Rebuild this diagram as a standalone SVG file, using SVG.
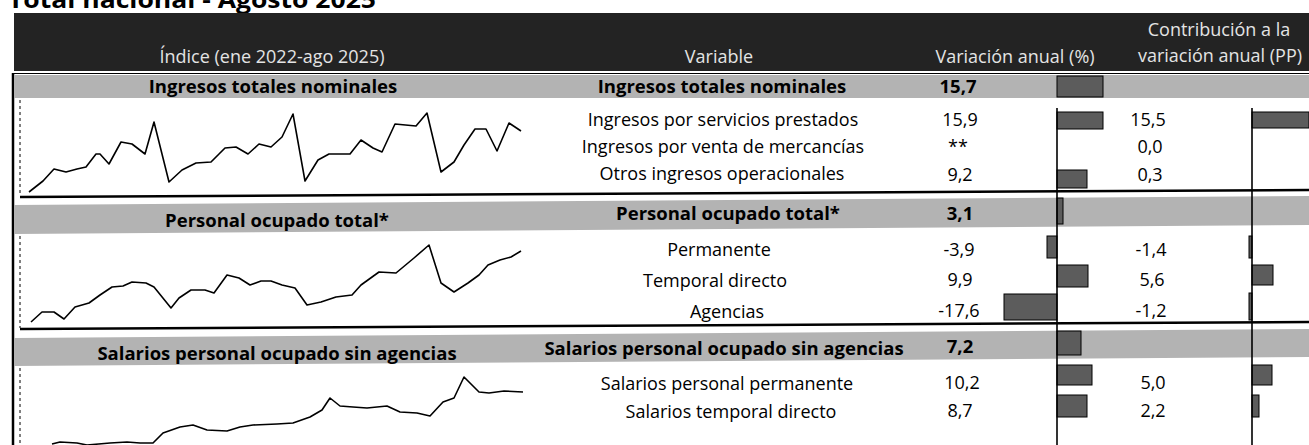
<svg xmlns="http://www.w3.org/2000/svg" width="1309" height="445" viewBox="0 0 1309 445">
<style>
text { font-family: "Open Sans", "Liberation Sans", sans-serif; fill: #000; }
.title { font-size: 24px; font-weight: 700; }
.h { font-size: 18px; fill: #e4e4e4; text-anchor: middle; }
.b { font-size: 18.5px; font-weight: 700; text-anchor: middle; }
.t { font-size: 18px; text-anchor: middle; }
.band { fill: #b3b3b3; }
.bar { fill: #5c5c5c; stroke: #000; stroke-width: 1; }
.sep { stroke: #000; stroke-width: 2.5; fill: none; }
.base { stroke: #000; stroke-width: 1.6; fill: none; }
.axis { stroke: #000; stroke-width: 1; stroke-dasharray: 3 3; fill: none; }
.spark { stroke: #000; stroke-width: 1.6; fill: none; stroke-linejoin: round; }
</style>
<rect width="1309" height="445" fill="#fff"/>
<text class="title" x="8" y="8" textLength="368" lengthAdjust="spacingAndGlyphs">Total nacional - Agosto 2025</text>

<g id="header">
  <rect x="14" y="13" width="1295" height="58" fill="#232323"/>
  <text class="h" x="272" y="63">Índice (ene 2022-ago 2025)</text>
  <text class="h" x="719" y="63">Variable</text>
  <text class="h" x="1015" y="63">Variación anual (%)</text>
  <text class="h" x="1219" y="36">Contribución a la</text>
  <text class="h" x="1220" y="62">variación anual (PP)</text>
</g>

<g id="frame">
  <line class="sep" x1="13" y1="73" x2="13" y2="445"/>
  <line x1="13" y1="73.5" x2="1309" y2="73.5" stroke="#000" stroke-width="1"/>
</g>

<g id="bands">
  <rect class="band" x="14" y="75" width="1295" height="23"/>
  <polygon class="band" points="14,205 1309,196 1309,225 14,234"/>
  <polygon class="band" points="14,338 1309,329 1309,357 14,366"/>
</g>

<g id="separators">
  <line class="sep" x1="20" y1="197" x2="1309" y2="190"/>
  <line class="sep" x1="20" y1="329" x2="1309" y2="322"/>
  <line class="axis" x1="20" y1="100" x2="20" y2="196"/>
  <line class="axis" x1="20" y1="236" x2="20" y2="328"/>
  <line class="axis" x1="20" y1="368" x2="20" y2="445"/>
</g>

<g id="sparklines">
  <polyline class="spark" points="29,192 43,181 54,169 66,172 77,169 86,167 96,154 100,154 109,164 121,142 132,144 145,154 154,122 169,182 182,170 196,163 211,162 225,148 236,147 248,154 259,144 271,147 282,137 293,114 305,181 318,160 329,154 350,154 361,140 373,148 382,152 395,124 416,126 427,113 441,172 454,162 464,145 475,129 486,129 497,151 509,123 521,131"/>
  <polyline class="spark" points="31,322 42,312 54,312 64,319 75,307 89,303 100,295 112,287 123,286 132,282 146,283 154,287 171,308 179,298 191,290 205,290 214,293 227,275 239,278 250,285 261,281 271,281 282,285 295,288 307,305 321,302 336,297 352,295 361,285 379,272 396,273 414,258 429,245 441,283 454,292 468,283 479,275 488,265 500,260 511,257 521,251"/>
  <polyline class="spark" points="52,444 60,442 77,443 87,445 110,443 127,442 140,443 153,443 163,433 180,427 193,425 207,430 227,431 240,427 253,425 277,424 293,423 310,417 322,410 330,398 340,406 353,407 367,408 387,406 400,412 417,413 430,416 443,402 454,398 464,377 479,392 489,393 504,391 523,392"/>
</g>

<g id="group-ingresos">
  <text class="b" x="273" y="93">Ingresos totales nominales</text>
  <text class="b" x="722" y="93">Ingresos totales nominales</text>
  <text class="b" x="958" y="93">15,7</text>
  <rect class="bar" x="1057" y="76" width="46" height="21"/>
  <text class="t" x="723" y="126">Ingresos por servicios prestados</text>
  <text class="t" x="960" y="126">15,9</text>
  <rect class="bar" x="1057" y="112" width="46" height="17"/>
  <text class="t" x="1148" y="126">15,5</text>
  <rect class="bar" x="1252" y="112" width="57" height="16"/>
  <text class="t" x="723" y="153">Ingresos por venta de mercancías</text>
  <text class="t" x="958" y="153">**</text>
  <text class="t" x="1150" y="153">0,0</text>
  <text class="t" x="722" y="180">Otros ingresos operacionales</text>
  <text class="t" x="960" y="181">9,2</text>
  <rect class="bar" x="1057" y="170" width="30" height="18"/>
  <text class="t" x="1150" y="181">0,3</text>
</g>

<g id="group-personal">
  <text class="b" x="277" y="227">Personal ocupado total*</text>
  <text class="b" x="728" y="220">Personal ocupado total*</text>
  <text class="b" x="960" y="220">3,1</text>
  <rect class="bar" x="1057" y="198" width="6" height="26"/>
  <text class="t" x="719" y="256">Permanente</text>
  <text class="t" x="959" y="256">-3,9</text>
  <rect class="bar" x="1047" y="236" width="10" height="22"/>
  <text class="t" x="1151" y="256">-1,4</text>
  <rect class="bar" x="1249" y="236" width="3" height="22"/>
  <text class="t" x="715" y="287">Temporal directo</text>
  <text class="t" x="960" y="286">9,9</text>
  <rect class="bar" x="1057" y="265" width="31" height="22"/>
  <text class="t" x="1152" y="286">5,6</text>
  <rect class="bar" x="1252" y="265" width="21" height="20"/>
  <text class="t" x="727" y="318">Agencias</text>
  <text class="t" x="959" y="317">-17,6</text>
  <rect class="bar" x="1004" y="294" width="53" height="26"/>
  <text class="t" x="1151" y="317">-1,2</text>
  <rect class="bar" x="1249" y="293" width="3" height="27"/>
</g>

<g id="group-salarios">
  <text class="b" x="277" y="360">Salarios personal ocupado sin agencias</text>
  <text class="b" x="724" y="355">Salarios personal ocupado sin agencias</text>
  <text class="b" x="960" y="353">7,2</text>
  <rect class="bar" x="1057" y="331" width="24" height="24"/>
  <text class="t" x="727" y="390">Salarios personal permanente</text>
  <text class="t" x="962" y="389">10,2</text>
  <rect class="bar" x="1057" y="365" width="35" height="20"/>
  <text class="t" x="1153" y="389">5,0</text>
  <rect class="bar" x="1252" y="365" width="20" height="20"/>
  <text class="t" x="731" y="418">Salarios temporal directo</text>
  <text class="t" x="960" y="417">8,7</text>
  <rect class="bar" x="1057" y="395" width="30" height="22"/>
  <text class="t" x="1153" y="417">2,2</text>
  <rect class="bar" x="1252" y="395" width="7" height="22"/>
</g>

<g id="baselines">
  <line class="base" x1="1057" y1="108" x2="1057" y2="445"/>
  <line class="base" x1="1252" y1="108" x2="1252" y2="445"/>
</g>
</svg>
